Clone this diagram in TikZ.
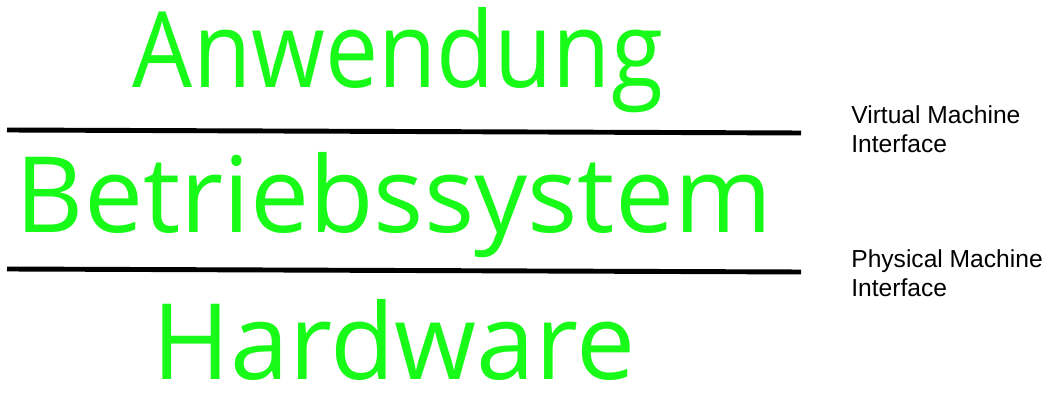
\documentclass[tikz,border=0pt]{standalone}
\usepackage{fontspec}
\setmainfont{Open Sans}
\newfontfamily\labelfont{Liberation Sans}
\usepackage{tikz}
\usetikzlibrary{positioning}
\definecolor{layergreen}{RGB}{24,250,24}
\tikzstyle{layer}=[inner sep=0pt,anchor=base,text=layergreen,font=\fontsize{60}{60}\selectfont]
\tikzstyle{iface}=[inner sep=0pt,anchor=north west,align=left,font=\labelfont\fontsize{14}{16.5}\selectfont]
\tikzstyle{border}=[line width=2.8pt,black]

\begin{document}
\begin{tikzpicture}[x=0.02cm,y=-0.02cm]

    \useasboundingbox (0,0) rectangle (1059,411);

    \node[layer] (app) at (398,88) {\scalebox{0.9}[1]{Anwendung}};
    \node[layer] (os) at (394,233) {Betriebssystem};
    \node[layer] (hw) at (394,380) {Hardware};

    \coordinate (vmleft) at (7,130);
    \coordinate (vmright) at (801,133);
    \coordinate (pmleft) at (7,269);
    \coordinate (pmright) at (801,272);

    \node[iface] (vmi) at (851,105) {Virtual Machine\\Interface};
    \node[iface] (pmi) at (851,249) {Physical Machine\\Interface};

    \draw[border] (vmleft) -- (vmright) ;
    \draw[border] (pmleft) -- (pmright) ;
  \end{tikzpicture}
\end{document}
